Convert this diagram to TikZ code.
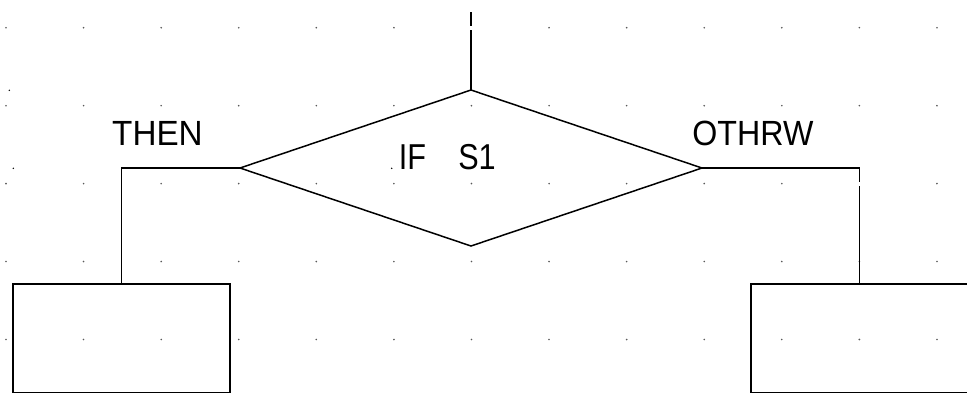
\documentclass[tikz,border=0pt]{standalone}
\usepackage{fontspec}
\setmainfont{Liberation Sans}
\usetikzlibrary{shapes.geometric}
\begin{document}
\begin{tikzpicture}[x=1pt,y=-1pt,
  ln/.style={line width=1.5pt, draw=black},
  gdot/.style={fill=black!65},
  lbl/.style={inner sep=0pt, outer sep=0pt, anchor=base west, font=\fontsize{35}{40}\selectfont},
  boxnode/.style={ln, rectangle, inner sep=0pt, outer sep=0pt, anchor=north west, minimum height=108.5pt},
  decision/.style={ln, diamond, inner sep=0pt, outer sep=0pt, minimum width=462pt, minimum height=156pt}]
\useasboundingbox[fill=white] (0,0) rectangle (967,392);
% grid of dots
\foreach \i in {0,...,12}
  \foreach \j in {0,...,4}
    \fill[gdot] ({6+77.58*\i},{27.7+77.95*\j}) circle (0.9pt);
% stray dots
\fill[black] (9.3,90.3) circle (0.8pt);
\fill[black] (13.3,168.3) circle (0.8pt);
\fill[black] (391.7,168.3) circle (0.8pt);
% shapes
\coordinate (top) at (471,12);
\node[decision] (d) at (471,168) {};
\node[boxnode, minimum width=217pt] (lbox) at (13,284) {};
\node[boxnode, minimum width=216.5pt] (rbox) at (751,284) {};
% connectors
\draw[ln] (top) -- (d.north);
\draw[ln] (d.west) -| (lbox.north);
\draw[ln] (d.east) -| (rbox.north);
% gaps where grid dots fall on lines
\fill[white] (469.5,26) rectangle (473.5,29.5);
\fill[white] (857.4,182) rectangle (861.4,185.5);
% labels
\node[lbl, xscale=0.95] (then) at (112.2,145) {THEN};
\node[lbl, xscale=0.92] (othrw) at (692.4,145) {OTHRW};
\node[lbl, font=\fontsize{36}{40}\selectfont, xscale=0.85] (cond) at (398.8,169) {IF\hspace*{38pt}S1};
\end{tikzpicture}
\end{document}
